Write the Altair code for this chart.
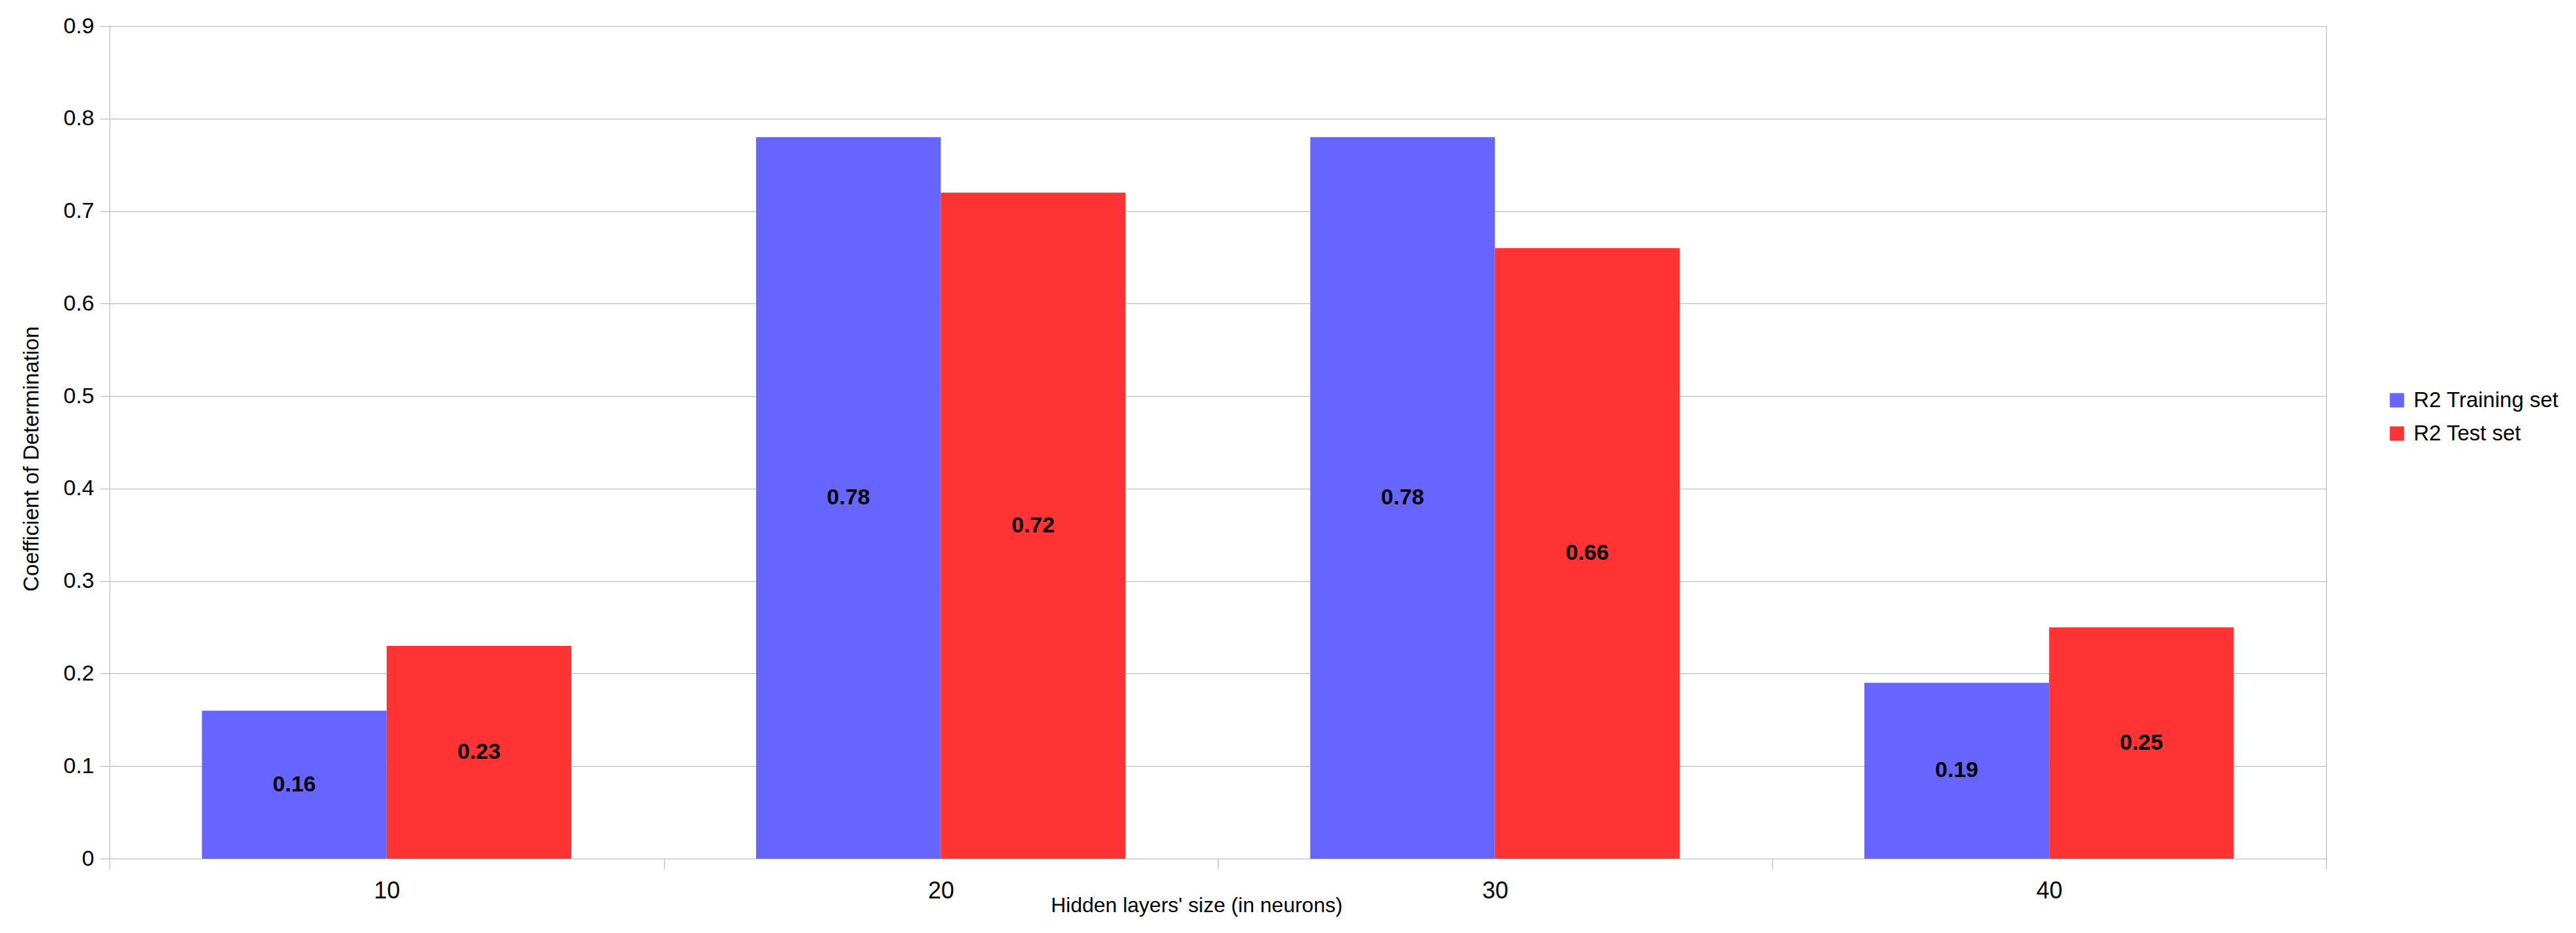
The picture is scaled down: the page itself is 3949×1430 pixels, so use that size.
import altair as alt
import pandas as pd

categories = ["10", "20", "30", "40"]
series_names = ["R2 Training set", "R2 Test set"]
train_values = [0.16, 0.78, 0.78, 0.19]
test_values = [0.23, 0.72, 0.66, 0.25]
y_ticks = [0, 0.1, 0.2, 0.3, 0.4, 0.5, 0.6, 0.7, 0.8, 0.9]
colors = ["#6666ff", "#ff3333"]

rows = []
for c, tr, te in zip(categories, train_values, test_values):
    rows.append({"size": c, "series": series_names[0], "value": tr})
    rows.append({"size": c, "series": series_names[1], "value": te})
df = pd.DataFrame(rows)

GRAY = "#b3b3b3"
FONT = "Liberation Sans"

x_enc = alt.X(
    "size:N",
    sort=categories,
    scale=alt.Scale(paddingInner=0, paddingOuter=0),
    axis=alt.Axis(
        title="Hidden layers' size (in neurons)",
        titleFont=FONT, titleFontSize=32, titleFontWeight="normal", titleColor="black",
        titleX=1666, titleY=81, titleBaseline="alphabetic", titleAlign="center",
        labelFont=FONT, labelFontSize=36, labelColor="black", labelAngle=0,
        labelBaseline="alphabetic", labelPadding=44,
        tickBand="extent", tickColor=GRAY, tickSize=16, tickWidth=1,
        domainColor=GRAY, domainWidth=1, grid=False,
    ),
)
xoff_enc = alt.XOffset(
    "series:N", sort=series_names,
    scale=alt.Scale(domain=series_names, paddingInner=0, paddingOuter=0.5),
)

y_enc = alt.Y(
    "value:Q",
    scale=alt.Scale(domain=[0, 0.9], nice=False, zero=True),
    axis=alt.Axis(
        values=y_ticks, format="~g",
        title="Coefficient of Determination",
        titleFont=FONT, titleFontSize=33, titleFontWeight="normal", titleColor="black",
        titleX=-120, titleY=663, titleAngle=270, titleBaseline="middle", titleAlign="center",
        labelFont=FONT, labelFontSize=34, labelColor="black", labelPadding=9,
        tickColor=GRAY, tickSize=15, tickWidth=1,
        domainColor=GRAY, domainWidth=1,
        grid=True, gridColor=GRAY, gridWidth=1,
    ),
)

color_enc = alt.Color(
    "series:N",
    scale=alt.Scale(domain=series_names, range=colors),
    legend=alt.Legend(
        title=None, orient="none", legendX=3490, legendY=557, padding=0,
        symbolType="square", symbolSize=484, symbolStrokeWidth=0, symbolOpacity=1,
        labelFont=FONT, labelFontSize=33, labelColor="black", labelOffset=9,
        labelLimit=600, rowPadding=17,
    ),
)

bars = alt.Chart(df).mark_bar().encode(
    x=x_enc, xOffset=xoff_enc, y=y_enc, color=color_enc
)

labels = alt.Chart(df).transform_calculate(
    mid="datum.value / 2"
).mark_text(
    font=FONT, fontSize=34, fontWeight="bold", color="black",
    align="center", baseline="middle",
).encode(
    x=alt.X("size:N", sort=categories),
    xOffset=alt.XOffset("series:N", sort=series_names),
    y=alt.Y("mid:Q"),
    text=alt.Text("value:Q", format=".2f"),
)

chart = alt.layer(bars, labels).properties(
    width=3398, height=1276,
    autosize=alt.AutoSizeParams(type="none"),
    padding={"left": 160, "top": 32, "right": 370, "bottom": 100},
).configure_view(
    stroke=GRAY, strokeWidth=1,
)

chart.save("out.html", embed_options={"renderer": "svg", "actions": False})
